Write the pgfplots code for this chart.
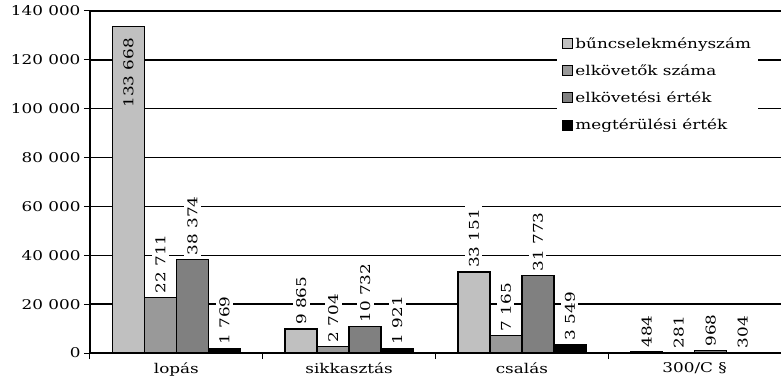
\documentclass[border=0pt]{standalone}
\usepackage{pgfplots}
\pgfplotsset{compat=1.18}
\usepackage{fontspec}
\setmainfont{DejaVu Serif}[FakeStretch=1.25]
\definecolor{c1}{HTML}{C0C0C0}
\definecolor{c2}{HTML}{999999}
\definecolor{c3}{HTML}{808080}
\newcommand{\lf}{\fontsize{13.5}{15}\selectfont}
\pgfplotsset{
  mybar/.style={ybar, bar width=32bp, draw=black, line width=1.3bp,
    legend image code/.code={\draw[##1, line width=1bp] (0bp,-5bp) rectangle (10bp,5bp);}},
  lab/.style={nodes near coords, nodes near coords style={xshift=#1, rotate=90, anchor=west, fill=white, inner sep=3.5bp, text=black, font=\lf}},
}
\begin{document}
\begin{tikzpicture}
\path[use as bounding box] (-90bp,-28bp) rectangle (691bp,353bp);
\begin{axis}[
  at={(0,0)}, anchor=south west,
  scale only axis, width=691bp, height=342bp,
  xmin=0, xmax=4, ymin=0, ymax=140000,
  axis x line*=bottom, axis y line*=left,
  axis line style={line width=1.5bp},
  xtick={0.5,1.5,2.5,3.5},
  xticklabels={lopás,sikkasztás,csalás,300/C \S},
  major x tick style={draw=none},
  minor xtick={0,1,2,3},
  minor tick length=6bp,
  ytick={0,20000,40000,60000,80000,100000,120000,140000},
  ymajorgrids, grid style={black, line width=1.5bp},
  tick style={black, line width=1bp},
  tick align=outside, major tick length=6bp,
  scaled y ticks=false,
  /pgf/number format/fixed,
  /pgf/number format/precision=0,
  /pgf/number format/1000 sep={\ },
  /pgf/number format/assume math mode=true,
  tick label style={font=\lf},
  legend style={at={(0.967,0.944)}, anchor=north east, draw=none, fill=white,
    font=\lf, row sep=11bp, inner sep=5bp},
  legend cell align=left,
]
\addplot[mybar, fill=c1, bar shift=-48bp, forget plot, nodes near coords,
  nodes near coords style={xshift=-48bp, rotate=90, anchor=east, inner xsep=11bp, text=black, font=\lf}]
  coordinates {(0.5,133668)};
\addplot[mybar, fill=c1, bar shift=-48bp, lab=-48bp]
  coordinates {(1.5,9865) (2.5,33151) (3.5,484)};
\addlegendentry{bűncselekményszám}
\addplot[mybar, fill=c2, bar shift=-16bp, lab=-16bp]
  coordinates {(0.5,22711) (1.5,2704) (2.5,7165) (3.5,281)};
\addlegendentry{elkövetők száma}
\addplot[mybar, fill=c3, bar shift=16bp, lab=16bp]
  coordinates {(0.5,38374) (1.5,10732) (2.5,31773) (3.5,968)};
\addlegendentry{elkövetési érték}
\addplot[mybar, fill=black, bar shift=48bp, lab=48bp]
  coordinates {(0.5,1769) (1.5,1921) (2.5,3549) (3.5,304)};
\addlegendentry{megtérülési érték}
\end{axis}
\end{tikzpicture}
\end{document}
